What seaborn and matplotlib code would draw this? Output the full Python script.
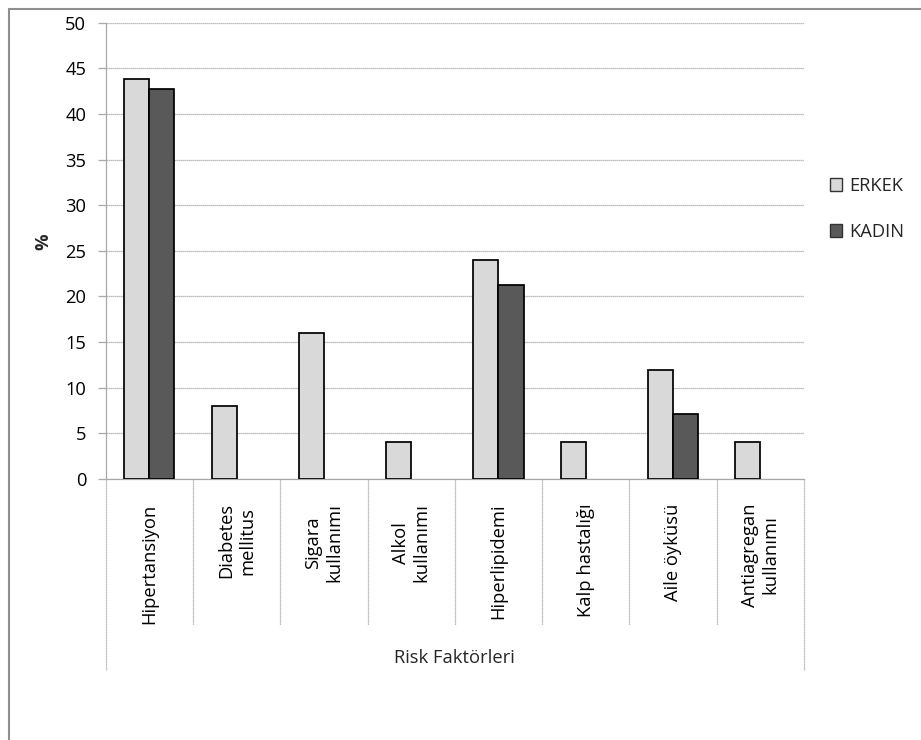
import numpy as np
import pandas as pd
import seaborn as sns
import matplotlib
matplotlib.use("Agg")
import matplotlib.pyplot as plt
from matplotlib.patches import Patch
from matplotlib.lines import Line2D
import matplotlib.transforms as mtransforms

# Risk factor prevalence (%) by sex
categories = ["Hipertansiyon", "Diabetes\nmellitus", "Sigara\nkullanımı",
              "Alkol\nkullanımı", "Hiperlipidemi", "Kalp hastalığı",
              "Aile öyküsü", "Antiagregan\nkullanımı"]
erkek = [43.8, 8, 16, 4, 24, 4, 11.9, 4]
kadin = [42.7, 0, 0, 0, 21.3, 0, 7.1, 0]
series_names = ["ERKEK", "KADIN"]
y_ticks = [0, 5, 10, 15, 20, 25, 30, 35, 40, 45, 50]

df = pd.DataFrame({
    "Risk": categories * 2,
    "Yuzde": erkek + kadin,
    "Cinsiyet": [series_names[0]] * len(categories) + [series_names[1]] * len(categories),
})

sns.set_theme(style="white")
plt.rcParams["font.family"] = ["Open Sans", "DejaVu Sans"]
FS = 13.2
GRID = "#a8a8a8"
colors = {"ERKEK": "#d9d9d9", "KADIN": "#595959"}

W, H = 921, 740
fig = plt.figure(figsize=(W / 100, H / 100), dpi=100)
ax = fig.add_axes([105.7 / W, 1 - 479 / H, (804 - 105.7) / W, (479 - 22.7) / H])

sns.barplot(data=df, x="Risk", y="Yuzde", hue="Cinsiyet", order=categories,
            hue_order=series_names, palette=colors, saturation=1,
            edgecolor="black", linewidth=1.25, width=0.573, gap=0,
            legend=False, ax=ax, zorder=3)

# zero-height bars leave no outline
for p in ax.patches:
    if abs(p.get_height()) < 1e-9:
        p.set_edgecolor("none")

n = len(categories)
ax.set_xlim(-0.5, n - 0.5)
ax.set_ylim(0, 50)
ax.set_yticks(y_ticks)
ax.yaxis.grid(True, color=GRID, linewidth=0.9, linestyle=(0, (1, 0.6)))
ax.set_axisbelow(True)
for side in ["top", "right"]:
    ax.spines[side].set_visible(False)
for side in ["left", "bottom"]:
    ax.spines[side].set_color(GRID)
    ax.spines[side].set_linewidth(0.9)

ax.tick_params(axis="y", length=6, width=0.9, color=GRID, pad=8,
               labelsize=FS, labelcolor="black", left=True)
ax.tick_params(axis="x", length=0, pad=17.5, labelsize=FS, labelcolor="black")
ax.set_xticks(range(n))
ax.set_xticklabels(categories, rotation=90, va="top", ha="center",
                   multialignment="center")

# category separators below the axis
trans = mtransforms.blended_transform_factory(ax.transData, ax.transAxes)
inner_low = (479 - 625) / (479 - 22.7)
outer_low = (479 - 670) / (479 - 22.7)
for i in range(n + 1):
    x = i - 0.5
    low = outer_low if i in (0, n) else inner_low
    ax.add_line(Line2D([x, x], [0, low], transform=trans, color=GRID,
                       linewidth=0.9, linestyle=(0, (1, 0.6)), clip_on=False))

ax.set_xlabel("Risk Faktörleri", fontsize=FS)
ax.xaxis.set_label_coords(0.5, (479 - 658) / (479 - 22.7))
ax.xaxis.label.set_va("center")
ax.set_ylabel("%", fontsize=FS, fontweight="bold")
ax.yaxis.set_label_coords((43 - 105.7) / (804 - 105.7), (479 - 242) / (479 - 22.7))
ax.yaxis.label.set_va("center")

handles = [Patch(facecolor=colors[s], edgecolor="#333333", linewidth=1.0)
           for s in series_names]
fig.legend(handles, series_names, loc="center left",
           bbox_to_anchor=(830 / W, 1 - 209 / H), frameon=False,
           fontsize=FS, handlelength=0.65, handleheight=0.65,
           handletextpad=0.4, labelspacing=1.53, borderpad=0, borderaxespad=0)

# chart area border
fig.add_artist(Line2D([8.5 / W, 8.5 / W], [0, 1 - 8.5 / H], transform=fig.transFigure,
                      color="#8f8f8f", linewidth=1.5))
fig.add_artist(Line2D([8.5 / W, 1], [1 - 8.5 / H, 1 - 8.5 / H], transform=fig.transFigure,
                      color="#8f8f8f", linewidth=1.5))

fig.savefig("out.png", dpi=100, facecolor="white")
